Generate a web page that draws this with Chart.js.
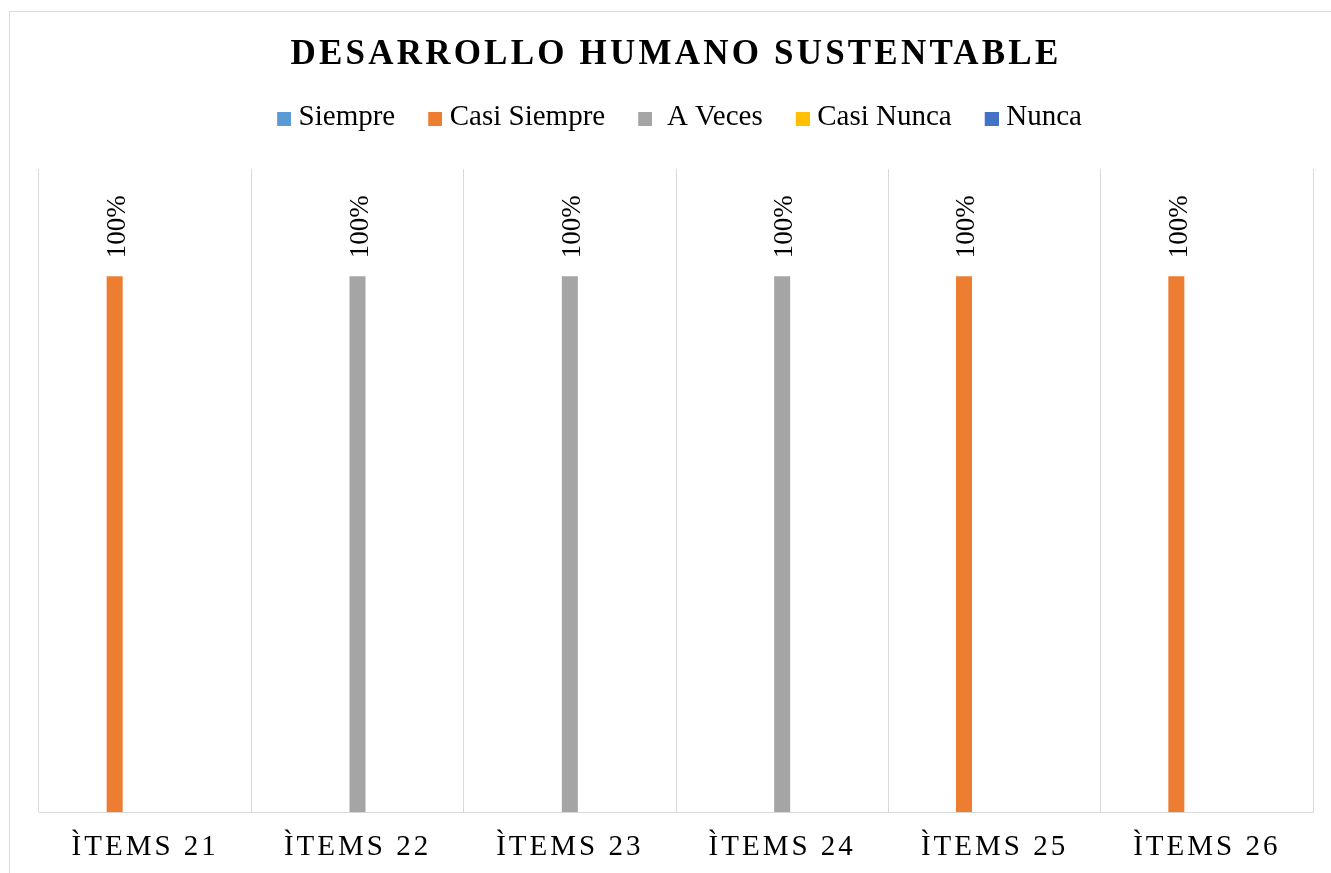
<!DOCTYPE html>
<html>
<head>
<meta charset="utf-8">
<script src="https://cdn.jsdelivr.net/npm/chart.js@4.4.0/dist/chart.umd.min.js"></script>
<style>
  html, body { margin: 0; padding: 0; background: #ffffff; overflow: hidden; width: 1331px; height: 873px; }
  #frame { position: absolute; left: 9px; top: 11px; width: 1340px; height: 900px; border: 1px solid #d9d9d9; box-sizing: border-box; }
  #c { position: absolute; left: 0; top: 0; }
</style>
</head>
<body>
<div id="frame"></div>
<canvas id="c" width="1331" height="882"></canvas>
<script>
// ---- data ----
const chartTitle = 'DESARROLLO HUMANO SUSTENTABLE';
const categories = ['ÌTEMS 21', 'ÌTEMS 22', 'ÌTEMS 23', 'ÌTEMS 24', 'ÌTEMS 25', 'ÌTEMS 26'];
const seriesNames = ['Siempre', 'Casi Siempre', ' A Veces', 'Casi Nunca', 'Nunca'];
const siempre     = [0, 0, 0, 0, 0, 0];
const casiSiempre = [100, 0, 0, 0, 100, 100];
const aVeces      = [0, 100, 100, 100, 0, 0];
const casiNunca   = [0, 0, 0, 0, 0, 0];
const nunca       = [0, 0, 0, 0, 0, 0];
const yMax = 120;

// ---- styles ----
const seriesColors = ['#5B9BD5', '#ED7D31', '#A5A5A5', '#FFC000', '#4472C4'];
const SERIF = '"Liberation Serif", "Times New Roman", serif';
const GRID = '#d9d9d9';

const seriesValues = [siempre, casiSiempre, aVeces, casiNunca, nunca];

function swatch(color) {
  const c = document.createElement('canvas');
  c.width = 28; c.height = 17;
  const x = c.getContext('2d');
  x.fillStyle = color;
  x.fillRect(14, 3, 14, 14);
  return c;
}

const letterSpacingPlugin = {
  id: 'letterSpacing',
  beforeDraw(chart) {
    const t = chart.titleBlock;
    if (t && !t._ls) {
      const d = t.draw;
      t.draw = function (...a) { const c = this.ctx; c.save(); c.letterSpacing = '3.2px'; d.apply(this, a); c.restore(); };
      t._ls = true;
    }
    const sx = chart.scales.x;
    if (sx && !sx._ls) {
      const d = sx.drawLabels;
      sx.drawLabels = function (...a) { const c = this.ctx; c.save(); c.letterSpacing = '3px'; d.apply(this, a); c.restore(); };
      sx._ls = true;
    }
  }
};

const barLabelPlugin = {
  id: 'barLabels',
  afterDatasetsDraw(chart) {
    const ctx = chart.ctx;
    const size = 27;
    chart.data.datasets.forEach((ds, i) => {
      const meta = chart.getDatasetMeta(i);
      if (meta.hidden) return;
      meta.data.forEach((bar, j) => {
        const v = ds.data[j];
        if (!v) return;
        ctx.save();
        ctx.translate(bar.x + size * 0.38, bar.y - 18);
        ctx.rotate(-Math.PI / 2);
        ctx.font = size + 'px ' + SERIF;
        ctx.fillStyle = '#000';
        ctx.textAlign = 'left';
        ctx.textBaseline = 'alphabetic';
        ctx.fillText(v + '%', 0, 0);
        ctx.restore();
      });
    });
  }
};

new Chart(document.getElementById('c'), {
  type: 'bar',
  data: {
    labels: categories,
    datasets: seriesNames.map((name, i) => ({
      label: name,
      data: seriesValues[i],
      backgroundColor: seriesColors[i],
      borderWidth: 0,
      categoryPercentage: 0.718,
      barPercentage: 0.525
    }))
  },
  options: {
    responsive: false,
    animation: false,
    events: [],
    layout: { padding: { left: 39, right: 18, top: 0, bottom: 0 } },
    scales: {
      x: {
        offset: true,
        grid: { display: true, offset: true, color: GRID, lineWidth: 1, drawTicks: false },
        border: { display: true, color: GRID, width: 1 },
        ticks: { color: '#000', font: { family: SERIF, size: 29, lineHeight: 1.2 }, padding: 17.5, maxRotation: 0, autoSkip: false }
      },
      y: {
        display: false,
        min: 0,
        max: yMax
      }
    },
    plugins: {
      title: {
        display: true,
        text: chartTitle,
        color: '#000',
        font: { family: SERIF, size: 35, weight: 'bold', lineHeight: 1 },
        padding: { top: 37, bottom: 5 }
      },
      subtitle: {
        display: true,
        text: '',
        weight: 500,
        font: { size: 27, lineHeight: 1 },
        padding: 0
      },
      legend: {
        display: true,
        position: 'top',
        labels: {
          color: '#000',
          font: { family: SERIF, size: 29 },
          boxWidth: 14,
          boxHeight: 14,
          padding: 26,
          usePointStyle: true,
          generateLabels(chart) {
            const items = Chart.defaults.plugins.legend.labels.generateLabels(chart);
            items.forEach((it, i) => { it.pointStyle = swatch(seriesColors[i]); });
            return items;
          }
        }
      },
      tooltip: { enabled: false }
    }
  },
  plugins: [letterSpacingPlugin, barLabelPlugin]
});
</script>
</body>
</html>
